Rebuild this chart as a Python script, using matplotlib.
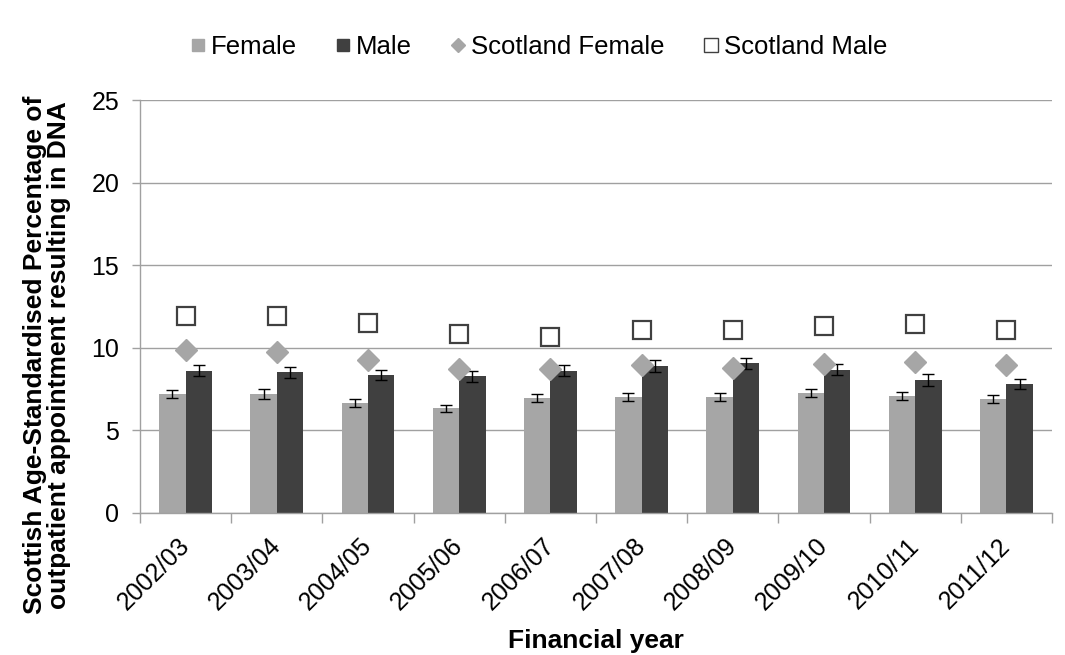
import numpy as np
import matplotlib
matplotlib.use('Agg')
import matplotlib.pyplot as plt
from matplotlib.lines import Line2D

plt.rcParams['font.family'] = ['Liberation Sans', 'DejaVu Sans']

years = ['2002/03', '2003/04', '2004/05', '2005/06', '2006/07',
         '2007/08', '2008/09', '2009/10', '2010/11', '2011/12']
female = [7.20, 7.20, 6.64, 6.34, 6.96, 7.04, 7.04, 7.28, 7.10, 6.90]
female_err = [0.25, 0.30, 0.25, 0.21, 0.25, 0.25, 0.25, 0.24, 0.23, 0.23]
male = [8.61, 8.52, 8.35, 8.29, 8.61, 8.90, 9.06, 8.68, 8.05, 7.81]
male_err = [0.32, 0.32, 0.32, 0.33, 0.32, 0.36, 0.32, 0.33, 0.36, 0.32]
scot_female = [9.87, 9.73, 9.24, 8.70, 8.70, 8.94, 8.76, 9.02, 9.16, 8.96]
scot_male = [11.92, 11.92, 11.48, 10.85, 10.67, 11.08, 11.08, 11.32, 11.44, 11.08]

c_female = '#a6a6a6'
c_male = '#404040'
c_grid = '#a0a0a0'

fig = plt.figure(figsize=(10.65, 6.55), dpi=100)
ax = fig.add_axes([0.1315, 0.2168, 0.8563, 0.6305])

x = np.arange(len(years))
width = 0.29

ax.bar(x - width / 2, female, width, color=c_female, zorder=2)
ax.bar(x + width / 2, male, width, color=c_male, zorder=2)
ax.errorbar(x - width / 2, female, yerr=female_err, fmt='none', ecolor='black',
            elinewidth=1, capsize=4, capthick=1, zorder=3)
ax.errorbar(x + width / 2, male, yerr=male_err, fmt='none', ecolor='black',
            elinewidth=1, capsize=4, capthick=1, zorder=3)
ax.plot(x, scot_female, linestyle='none', marker='D', markersize=11.5,
        color=c_female, zorder=4)
ax.plot(x, scot_male, linestyle='none', marker='s', markersize=13,
        markerfacecolor='white', markeredgecolor=c_male, markeredgewidth=1.6, zorder=4)

ax.set_xlim(-0.5, len(years) - 0.5)
ax.set_ylim(0, 25)
ax.set_yticks(range(0, 26, 5))
ax.yaxis.grid(True, color=c_grid, linewidth=1)
ax.set_axisbelow(True)

ax.set_xticks(x)
ax.set_xticklabels(years, rotation=45, ha='right', va='center',
                   rotation_mode='anchor', fontsize=18)
ax.set_xticks(np.arange(-0.5, len(years), 1.0), minor=True)
ax.tick_params(axis='x', which='major', length=0, pad=21)
ax.tick_params(axis='x', which='minor', length=7, color=c_grid, width=1)
ax.tick_params(axis='y', length=6, color=c_grid, width=1, labelsize=18, pad=9)

for side in ['top', 'right']:
    ax.spines[side].set_visible(False)
for side in ['left', 'bottom']:
    ax.spines[side].set_color(c_grid)
    ax.spines[side].set_linewidth(1)

ax.set_ylabel('Scottish Age-Standardised Percentage of\noutpatient appointment resulting in DNA',
              fontsize=19, fontweight='bold', linespacing=1.0)
ax.yaxis.set_label_coords(-0.076, 0.383)
ax.set_xlabel('Financial year', fontsize=19, fontweight='bold')
ax.xaxis.set_label_coords(0.5, -0.28)

handles = [
    Line2D([], [], linestyle='none', marker='s', markersize=8, color=c_female),
    Line2D([], [], linestyle='none', marker='s', markersize=9, color=c_male),
    Line2D([], [], linestyle='none', marker='D', markersize=7, color=c_female),
    Line2D([], [], linestyle='none', marker='s', markersize=10,
           markerfacecolor='white', markeredgecolor=c_male, markeredgewidth=1),
]
labels = ['Female', 'Male', 'Scotland Female', 'Scotland Male']
fig.legend(handles, labels, loc='center', bbox_to_anchor=(0.505, 0.928), ncol=4,
           frameon=False, fontsize=18.5, handlelength=0.7, handletextpad=0.15,
           columnspacing=1.45)

fig.savefig('out.png', dpi=100)
